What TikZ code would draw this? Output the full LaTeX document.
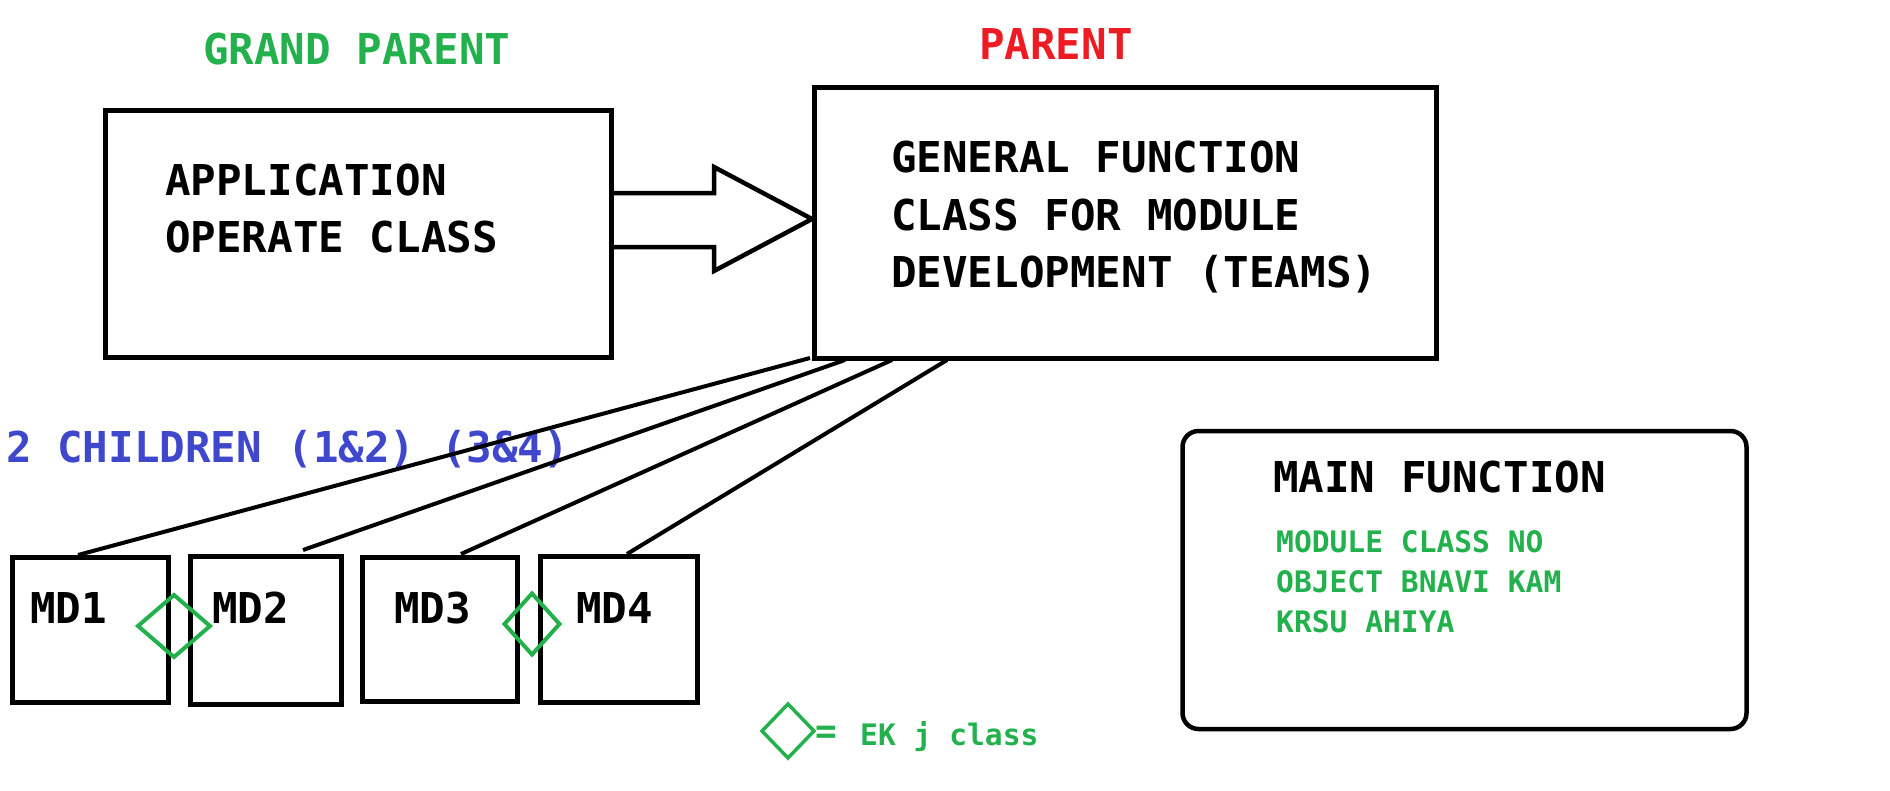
\documentclass[tikz,border=0pt]{standalone}
\usepackage{fontspec}
\setmonofont{DejaVu Sans Mono}
\usetikzlibrary{calc,shapes.geometric}
\definecolor{pgreen}{HTML}{22B14C}
\definecolor{pred}{HTML}{ED1C24}
\definecolor{pblue}{HTML}{3F48CC}
\begin{document}
\begin{tikzpicture}[x=1pt,y=-1pt,
  box/.style={draw, line width=5pt, inner sep=0pt, outer sep=0pt, anchor=north west},
  big/.style={font=\ttfamily\bfseries\fontsize{42.5}{51}\selectfont, inner sep=0pt, anchor=base west},
  small/.style={font=\ttfamily\bfseries\fontsize{29.6}{36}\selectfont, inner sep=0pt, anchor=base west, text=pgreen},
  diam/.style={draw=pgreen, line width=4pt, diamond, inner sep=0pt, outer sep=0pt},
  conn/.style={line width=4pt}
]
\useasboundingbox (0,0) rectangle (1890,790);
% titles
\node[big, text=pgreen] (gp) at (203,64) {GRAND PARENT};
\node[big, text=pred] (pt) at (979,59) {PARENT};
% boxes
\node[box, minimum width=505.5pt, minimum height=246.5pt] (app) at (105.5,110.5) {};
\node[box, minimum width=622pt, minimum height=271pt] (gen) at (814,87) {};
\node[big] (app1) at (165,195) {APPLICATION};
\node[big] (app2) at (165,252) {OPERATE CLASS};
\node[big] (gen1) at (891,172) {GENERAL FUNCTION};
\node[big] (gen2) at (891,230) {CLASS FOR MODULE};
\node[big] (gen3) at (891,287) {DEVELOPMENT (TEAMS)};
% block arrow
\draw[line width=4.5pt, miter limit=20]
  ($(app.east)+(0,-40.75)$) -- (714,193) -- (714,167) -- ($(gen.west)+(-2,-3.5)$)
  -- (714,271) -- (714,247) -- ($(app.east)+(0,13.25)$);
% children label
\node[big, text=pblue] (ch) at (6,462) {2 CHILDREN (1\&2) (3\&4)};
% module boxes
\node[box, minimum width=156pt, minimum height=145pt] (md1) at (12,557) {};
\node[box, minimum width=151pt, minimum height=148pt] (md2) at (190,556) {};
\node[box, minimum width=155pt, minimum height=144pt] (md3) at (362,557) {};
\node[box, minimum width=157pt, minimum height=146pt] (md4) at (540,556) {};
\node[big] (md1t) at (30,623) {MD1};
\node[big] (md2t) at (212,623) {MD2};
\node[big] (md3t) at (394,623) {MD3};
\node[big] (md4t) at (576,623) {MD4};
% diamonds
\node[diam, minimum width=72pt, minimum height=62pt] (d1) at (174,626) {};
\node[diam, minimum width=55pt, minimum height=61pt] (d2) at (532,624) {};
% connectors
\draw[conn] ($(gen.south west)+(-4,0)$) -- ($(md1.north west)+(66,-2)$);
\draw[conn] ($(gen.south west)+(31,2)$) -- ($(md2.north west)+(113,-6)$);
\draw[conn] ($(gen.south west)+(78,2)$) -- ($(md3.north west)+(99,-3)$);
\draw[conn] ($(gen.south west)+(133,2)$) -- ($(md4.north west)+(87,-2)$);
% main function box
\node[box, rounded corners=16pt, line width=4.5pt, minimum width=564pt, minimum height=298pt] (main) at (1182.5,431) {};
\node[big] (mainf) at (1273,492) {MAIN FUNCTION};
\node[small] (m1) at (1276,552) {MODULE CLASS NO};
\node[small] (m2) at (1276,592) {OBJECT BNAVI KAM};
\node[small] (m3) at (1276,632) {KRSU AHIYA};
% legend
\node[diam, line width=3.5pt, minimum width=52pt, minimum height=54pt] (ld) at (788,731) {};
\node[font=\ttfamily\bfseries\fontsize{36}{40}\selectfont, text=pgreen, inner sep=0pt, anchor=base west] (eq) at (815,743) {=};
\node[small] (lt) at (860,745) {EK j class};
\end{tikzpicture}
\end{document}
